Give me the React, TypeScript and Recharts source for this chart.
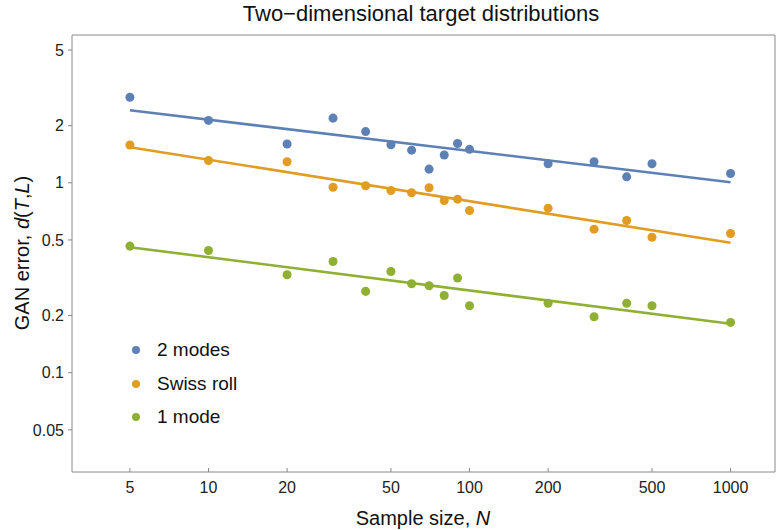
import React from 'react';
import {
  ComposedChart,
  Scatter,
  XAxis,
  YAxis,
  ZAxis,
  ReferenceLine,
} from 'recharts';

// sample sizes N
const sampleSizes = [5, 10, 20, 30, 40, 50, 60, 70, 80, 90, 100, 200, 300, 400, 500, 1000];

// GAN error per target distribution
const twoModes = [2.82, 2.13, 1.6, 2.19, 1.86, 1.585, 1.485, 1.18, 1.4, 1.61, 1.5, 1.26, 1.29, 1.075, 1.26, 1.12];
const swissRoll = [1.58, 1.31, 1.29, 0.948, 0.964, 0.911, 0.886, 0.941, 0.807, 0.82, 0.715, 0.735, 0.57, 0.633, 0.517, 0.541];
const oneMode = [0.464, 0.44, 0.328, 0.385, 0.268, 0.341, 0.294, 0.287, 0.255, 0.315, 0.225, 0.232, 0.197, 0.232, 0.225, 0.184];

// power-law fit lines, read at the ends N = 5 and N = 1000
const fitRange = [5, 1000];
const twoModesFit = [2.41, 1.007];
const swissRollFit = [1.54, 0.483];
const oneModeFit = [0.458, 0.181];

const xTicks = [5, 10, 20, 50, 100, 200, 500, 1000];
const yTicks = [0.05, 0.1, 0.2, 0.5, 1, 2, 5];

const BLUE = '#5E81B5';
const ORANGE = '#E19C24';
const GREEN = '#8FB032';
const FRAME = '#8a8a8a';
const FONT = '"Liberation Sans", Arial, sans-serif';

const toPoints = (values: number[]) => values.map((e, i) => ({ n: sampleSizes[i], e }));
const toFit = (values: number[]) => values.map((e, i) => ({ n: fitRange[i], e }));

const series = [
  { name: '2 modes', color: BLUE, points: toPoints(twoModes), fit: toFit(twoModesFit) },
  { name: 'Swiss roll', color: ORANGE, points: toPoints(swissRoll), fit: toFit(swissRollFit) },
  { name: '1 mode', color: GREEN, points: toPoints(oneMode), fit: toFit(oneModeFit) },
];

const noDot = () => <g />;

export default function App() {
  return (
    <div style={{ position: 'absolute', left: 0, top: 0, width: 778, height: 530, fontFamily: FONT, background: '#fff' }}>
      <ComposedChart width={778} height={530} margin={{ top: 35, right: 3, bottom: 28, left: 22 }}>
        <XAxis
          dataKey="n"
          type="number"
          scale="log"
          domain={[3, 1480]}
          allowDataOverflow
          ticks={xTicks}
          height={30}
          tickSize={-4}
          tickMargin={14}
          stroke={FRAME}
          tick={{ fill: '#222', fontSize: 16, fontFamily: FONT }}
        />
        <YAxis
          dataKey="e"
          type="number"
          scale="log"
          domain={[0.03, 6]}
          allowDataOverflow
          ticks={yTicks}
          width={50}
          tickSize={4}
          tickMargin={4}
          stroke={FRAME}
          tick={{ fill: '#222', fontSize: 16, fontFamily: FONT }}
        />
        <ZAxis range={[80, 80]} />
        <ReferenceLine y={6} stroke={FRAME} strokeWidth={1} />
        <ReferenceLine x={1480} stroke={FRAME} strokeWidth={1} />
        {series.map((s) => (
          <Scatter
            key={s.name + '-fit'}
            data={s.fit}
            line={{ stroke: s.color, strokeWidth: 2.6 }}
            shape={noDot}
            isAnimationActive={false}
          />
        ))}
        {series.map((s) => (
          <Scatter key={s.name} name={s.name} data={s.points} fill={s.color} isAnimationActive={false} />
        ))}
      </ComposedChart>

      <div style={{ position: 'absolute', left: 421, top: 3, transform: 'translateX(-50%)', fontSize: 22, lineHeight: '22px', whiteSpace: 'nowrap', color: '#111' }}>
        Two−dimensional target distributions
      </div>
      <div style={{ position: 'absolute', left: 423, top: 508, transform: 'translateX(-50%)', fontSize: 20, lineHeight: '20px', whiteSpace: 'nowrap', color: '#111' }}>
        Sample size, <i>N</i>
      </div>
      <div style={{ position: 'absolute', left: 22, top: 253, transform: 'translate(-50%, -50%) rotate(-90deg)', fontSize: 20, lineHeight: '20px', whiteSpace: 'nowrap', color: '#111' }}>
        GAN error, <i>d</i>(<i>T</i>,<i>L</i>)
      </div>

      {series.map((s, i) => (
        <div key={s.name} style={{ position: 'absolute', left: 132, top: 340 + i * 33.5, height: 20, display: 'flex', alignItems: 'center', fontSize: 19, color: '#111', whiteSpace: 'nowrap' }}>
          <span style={{ width: 8, height: 8, borderRadius: 4, background: s.color, display: 'inline-block', marginRight: 17 }} />
          {s.name}
        </div>
      ))}
    </div>
  );
}
